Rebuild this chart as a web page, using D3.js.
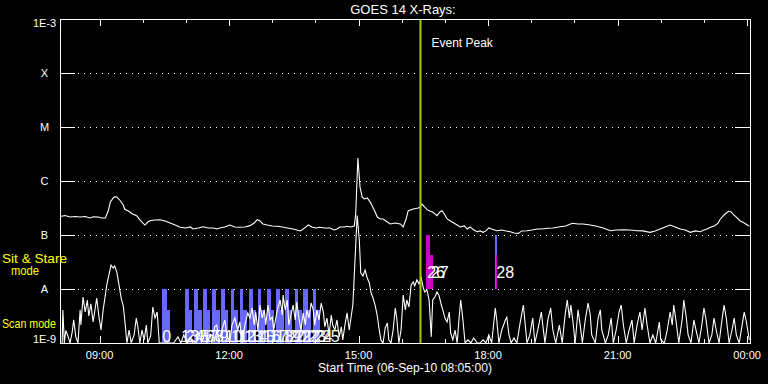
<!DOCTYPE html>
<html><head><meta charset="utf-8">
<script src="https://cdn.jsdelivr.net/npm/d3@7"></script>
<style>
html,body{margin:0;padding:0;background:#000;}
svg{display:block;background:#000;}
text{font-family:"Liberation Sans",Arial,sans-serif;}
</style></head><body>
<svg id="chart" width="768" height="384"></svg>
<script>
// ---------------- DATA ----------------
const startTime = "2010-09-06T08:05:00Z";
const endTime = "2010-09-07T00:04:00Z";
const titleText = "GOES 14 X-Rays:";
const xAxisTitle = "Start Time (06-Sep-10 08:05:00)";
const yLevels = [1e-9, 1e-8, 1e-7, 1e-6, 1e-5, 1e-4, 1e-3];
const yLabels = ["1E-9", "A", "B", "C", "M", "X", "1E-3"];
const eventPeakMin = 501; // minutes after start (16:26)

// GOES long channel: [minutes after start, flux W/m^2]
const longChannel = [
[0,2.2e-7],[7,2.3e-7],[14,2.15e-7],[21,2.2e-7],[28,2.15e-7],[35,2.2e-7],[42,2.07e-7],[46,2.18e-7],
[53,2.15e-7],[58,2.07e-7],[63,2.07e-7],[67,2.78e-7],[70,4.1e-7],[74,4.85e-7],[76,5.1e-7],[79,5.05e-7],
[83,4.45e-7],[88,3.6e-7],[90,3.0e-7],[95,2.78e-7],[101,2.45e-7],[107,2.25e-7],[111,1.9e-7],[115,1.67e-7],
[118,1.53e-7],[122,1.74e-7],[125,1.84e-7],[132,1.9e-7],[139,1.92e-7],[146,1.82e-7],[153,1.67e-7],[160,1.53e-7],
[167,1.39e-7],[174,1.35e-7],[181,1.41e-7],[185,1.29e-7],[192,1.35e-7],[199,1.42e-7],[206,1.35e-7],[213,1.35e-7],
[218,1.29e-7],[222,1.35e-7],[229,1.41e-7],[236,1.53e-7],[243,1.41e-7],[250,1.39e-7],[257,1.41e-7],[264,1.49e-7],
[270,1.67e-7],[274,1.92e-7],[278,1.82e-7],[282,1.6e-7],[288,1.53e-7],[295,1.47e-7],[302,1.45e-7],[309,1.41e-7],
[316,1.35e-7],[324,1.29e-7],[329,1.24e-7],[334,1.19e-7],[338,1.29e-7],[342,1.41e-7],[345,1.53e-7],[350,1.41e-7],
[356,1.35e-7],[361,1.39e-7],[368,1.35e-7],[375,1.35e-7],[381,1.24e-7],[385,1.29e-7],[389,1.41e-7],[395,1.41e-7],
[399,1.45e-7],[404,1.41e-7],[409,1.47e-7],[411,2.45e-7],[414,2.67e-6],[417,7.7e-7],[420,5.05e-7],[423,4.65e-7],
[427,4.84e-7],[431,4.1e-7],[434,3.44e-7],[438,2.67e-7],[441,2.15e-7],[445,1.98e-7],[449,1.98e-7],[455,1.74e-7],
[459,1.6e-7],[466,1.67e-7],[473,1.6e-7],[477,1.41e-7],[481,1.98e-7],[484,2.82e-7],[491,3.03e-7],[498,3.16e-7],
[500,3.3e-7],[503,3.75e-7],[507,3.3e-7],[510,2.95e-7],[514,2.78e-7],[518,2.67e-7],[524,2.28e-7],[528,2.67e-7],
[531,2.82e-7],[535,2.35e-7],[538,1.98e-7],[545,1.74e-7],[552,1.53e-7],[556,1.41e-7],[562,1.47e-7],[566,1.29e-7],
[570,1.41e-7],[575,1.24e-7],[580,1.15e-7],[584,1.19e-7],[588,1.12e-7],[592,1.19e-7],[596,1.35e-7],[600,1.29e-7],
[607,1.2e-7],[614,1.24e-7],[620,1.19e-7],[626,1.15e-7],[631,1.09e-7],[637,1.07e-7],[642,1.19e-7],[649,1.2e-7],
[656,1.24e-7],[663,1.29e-7],[670,1.29e-7],[677,1.33e-7],[685,1.35e-7],[695,1.42e-7],[703,1.47e-7],[712,1.65e-7],
[720,1.6e-7],[727,1.6e-7],[737,1.53e-7],[746,1.45e-7],[755,1.35e-7],[765,1.2e-7],[773,1.24e-7],[783,1.25e-7],
[792,1.24e-7],[802,1.2e-7],[810,1.19e-7],[820,1.12e-7],[827,1.19e-7],[834,1.29e-7],[841,1.41e-7],[848,1.53e-7],
[855,1.41e-7],[862,1.29e-7],[869,1.24e-7],[876,1.12e-7],[883,1.19e-7],[890,1.15e-7],[895,1.24e-7],[899,1.29e-7],
[905,1.41e-7],[910,1.49e-7],[915,1.67e-7],[917,1.92e-7],[923,2.35e-7],[929,2.75e-7],[933,2.67e-7],[935,2.45e-7],
[940,2.15e-7],[945,1.84e-7],[951,1.67e-7],[958,1.45e-7]
];

// GOES short channel: [minutes after start, flux W/m^2]
const shortChannel = [
[3,1.0e-9],[4,4.1e-9],[6,1.0e-9],[8,1.7e-9],[11,1.35e-9],[14,1.0e-9],[17,1.6e-9],[19,2.7e-9],[22,1.3e-9],
[25,1.0e-9],[28,4.1e-9],[29,2.15e-9],[32,7.1e-9],[35,3.75e-9],[38,6.25e-9],[40,3.16e-9],[43,5.3e-9],
[46,2.45e-9],[49,4.45e-9],[51,6.8e-9],[54,3.16e-9],[57,1.74e-9],[60,4.1e-9],[63,7.7e-9],[65,1.19e-8],
[68,1.82e-8],[71,2.78e-8],[74,2.45e-8],[76,2.67e-8],[79,2.06e-8],[82,1.19e-8],[85,6.8e-9],[88,4.84e-9],
[90,2.67e-9],[93,1.0e-9],[96,1.74e-9],[99,1.0e-9],[103,1.41e-9],[106,2.9e-9],[108,2.06e-9],[111,1.0e-9],
[114,1.74e-9],[117,1.14e-9],[120,2.15e-9],[122,1.0e-9],[126,1.35e-9],[129,4.64e-9],[132,2.9e-9],[135,3.75e-9],
[138,1.0e-9],[142,1.0e-9],[147,1.0e-9],[153,1.0e-9],[158,1.0e-9],[164,1.3e-9],[168,1.0e-9],[172,1.41e-9],
[177,1.0e-9],[181,1.24e-9],[185,1.0e-9],[189,1.0e-9],[193,1.53e-9],[197,1.0e-9],[202,1.74e-9],[204,1.0e-9],
[209,1.41e-9],[211,1.0e-9],[215,2.0e-9],[218,2.15e-9],[221,1.0e-9],[225,1.74e-9],[229,2.67e-9],[232,1.41e-9],
[236,1.0e-9],[239,2.15e-9],[243,2.9e-9],[247,1.74e-9],[250,2.45e-9],[253,1.0e-9],[257,2.15e-9],[261,3.6e-9],
[264,2.9e-9],[267,4.45e-9],[270,2.15e-9],[272,3.75e-9],[275,1.74e-9],[278,5.05e-9],[281,2.9e-9],[284,4.1e-9],
[286,2.15e-9],[289,5.05e-9],[292,2.67e-9],[295,3.0e-9],[297,1.74e-9],[302,4.1e-9],[306,6.25e-9],[309,3.3e-9],
[310,7.7e-9],[313,4.1e-9],[316,6.25e-9],[318,2.15e-9],[321,3.3e-9],[324,5.05e-9],[327,2.67e-9],[329,5.74e-9],
[332,2.9e-9],[335,1.74e-9],[338,3.6e-9],[341,2.15e-9],[343,4.1e-9],[346,2.9e-9],[349,5.5e-9],[352,4.1e-9],
[354,2.15e-9],[357,4.1e-9],[360,2.67e-9],[363,5.5e-9],[366,3.75e-9],[368,2.0e-9],[371,2.9e-9],[374,1.41e-9],
[377,3.3e-9],[379,2.15e-9],[382,1.74e-9],[385,2.67e-9],[388,1.3e-9],[391,2.0e-9],[393,1.14e-9],[396,2.15e-9],
[399,3.6e-9],[402,1.74e-9],[404,2.67e-9],[407,5.05e-9],[410,3.4e-8],[413,2.3e-7],[416,8.1e-8],[418,2.0e-8],
[421,1.74e-8],[424,2.25e-8],[427,1.6e-8],[430,1.29e-8],[432,8.8e-9],[435,6.8e-9],[438,5.05e-9],[441,3.16e-9],
[443,2.0e-9],[446,1.14e-9],[449,1.0e-9],[452,1.9e-9],[455,2.35e-9],[457,1.14e-9],[460,1.0e-9],[463,1.74e-9],
[466,4.45e-9],[468,2.9e-9],[471,1.0e-9],[474,1.74e-9],[477,7.7e-9],[480,4.1e-9],[482,6.25e-9],[485,4.64e-9],
[488,1.19e-8],[491,1.35e-8],[493,1.14e-8],[496,1.47e-8],[499,1.24e-8],[502,1.6e-8],[505,1.04e-8],[507,8.8e-9],
[510,9.6e-9],[513,6.25e-9],[516,1.3e-9],[518,6.25e-9],[521,7.1e-9],[524,8.8e-9],[527,7.4e-9],[530,5.05e-9],
[532,4.1e-9],[535,2.9e-9],[538,2.45e-9],[541,3.75e-9],[543,1.53e-9],[546,1.14e-9],[549,1.74e-9],[552,1.0e-9],
[555,3.3e-9],[557,6.25e-9],[560,2.67e-9],[563,1.0e-9],[567,1.14e-9],[571,1.0e-9],[575,1.24e-9],[580,1.0e-9],
[584,1.0e-9],[588,1.14e-9],[592,1.0e-9],[596,1.41e-9],[600,1.0e-9],[605,4.45e-9],[607,2.67e-9],[610,1.0e-9],
[614,1.74e-9],[619,2.67e-9],[621,3.0e-9],[624,1.41e-9],[627,1.0e-9],[631,1.24e-9],[635,1.0e-9],[639,2.15e-9],
[644,5.05e-9],[646,2.67e-9],[649,1.0e-9],[653,1.41e-9],[657,2.9e-9],[660,1.0e-9],[664,1.74e-9],[669,3.75e-9],
[671,2.15e-9],[674,1.0e-9],[678,2.67e-9],[682,4.45e-9],[685,1.74e-9],[689,1.0e-9],[694,2.15e-9],[698,1.0e-9],
[702,3.3e-9],[705,6.25e-9],[708,2.9e-9],[710,5.05e-9],[713,2.45e-9],[716,1.0e-9],[720,4.1e-9],[723,2.15e-9],
[726,1.0e-9],[730,2.67e-9],[734,5.5e-9],[737,3.3e-9],[739,1.41e-9],[744,1.0e-9],[748,2.9e-9],[751,4.1e-9],
[753,1.74e-9],[758,1.0e-9],[762,1.41e-9],[766,2.9e-9],[769,1.0e-9],[773,1.74e-9],[777,3.75e-9],[780,5.05e-9],
[783,2.15e-9],[787,1.0e-9],[791,1.74e-9],[795,2.67e-9],[798,1.0e-9],[802,2.15e-9],[806,3.75e-9],[809,1.74e-9],
[813,4.45e-9],[816,2.15e-9],[820,1.0e-9],[824,1.41e-9],[828,1.0e-9],[833,2.45e-9],[835,1.14e-9],[840,1.0e-9],
[844,1.74e-9],[848,3.75e-9],[851,2.15e-9],[853,5.05e-9],[856,2.67e-9],[860,1.0e-9],[865,2.9e-9],[867,6.25e-9],
[870,3.3e-9],[873,1.41e-9],[877,1.0e-9],[881,2.67e-9],[884,1.74e-9],[888,1.0e-9],[892,2.15e-9],[895,4.45e-9],
[898,2.67e-9],[902,1.0e-9],[906,1.41e-9],[909,2.9e-9],[912,1.74e-9],[916,1.0e-9],[920,2.67e-9],[923,5.05e-9],
[926,2.9e-9],[930,1.0e-9],[934,1.74e-9],[937,2.9e-9],[940,1.41e-9],[944,1.0e-9],[948,2.15e-9],[951,3.75e-9],
[954,2.45e-9],[958,1.14e-9]
];

// Scan-mode rasters (minutes after start): start, end of full-height part, end
const scanStart = [142,174,186,199,211,224,237,250,262,275,288,300,313,326,338,351];
const scanMid   = [149,179,192,204,217,229,242,255,268,280,293,306,318,331,344,356];
const scanEnd   = [153,184,197,209,222,234,247,260,272,285,298,311,323,336,349,361];
const scanLabels = ["0","1","2","3","4","5","6","7","8","9","10","11","12","13","14","15","16","17","18","19","20","21","22","23","24","25"];
const scanLabelTimes = [142,168,175,181,188,195,202,209,215,222,229,238,247,256,264,274,282,292,300,310,318,327,336,345,354,364];
const scanLevels = {bottom:1e-9, full:1e-8, partial:4.1e-9};

// Sit & Stare rasters
const sitStart = [509,605];
const sitMid   = [514,606];
const sitEnd   = [518,607];
const sitLabels = ["26","27","28"];
const sitLabelTimes = [509,514,605];
const sitLevels = {bottom:1e-8, full:1e-7, partial:4.3e-8};

// ---------------- CHART ----------------
const L = 60, R = 750, T = 19, B = 343;
const svg = d3.select("#chart");
const t0 = new Date(startTime), t1 = new Date(endTime);
const tm = m => d3.utcMinute.offset(t0, m);
const x = d3.scaleUtc().domain([t0, t1]).range([L, R]);
const y = d3.scaleLog().domain([1e-9, 1e-3]).range([B, T]);
const px = v => Math.round(v) + 0.5;

svg.append("defs").append("clipPath").attr("id","plotclip").append("rect")
  .attr("x", L).attr("y", T).attr("width", R - L + 1).attr("height", B - T + 1);

const BLUE = "#6868ff", MAG = "#cc00cc", EVT = "#a0d000";

// grid lines (dotted) and ticks
const gGrid = svg.append("g").attr("shape-rendering","crispEdges");
yLevels.slice(1, -1).forEach(v => {
  const yy = px(y(v));
  gGrid.append("line").attr("x1", L + 18).attr("x2", R - 14).attr("y1", yy).attr("y2", yy)
    .attr("stroke", "#fff").attr("stroke-dasharray", "1 5");
  gGrid.append("line").attr("x1", L).attr("x2", L + 15).attr("y1", yy).attr("y2", yy).attr("stroke", "#fff");
  gGrid.append("line").attr("x1", R - 15).attr("x2", R).attr("y1", yy).attr("y2", yy).attr("stroke", "#fff");
});

// scan bars
const gBars = svg.append("g").attr("shape-rendering","crispEdges");
scanStart.forEach((s, i) => {
  gBars.append("rect").attr("x", x(tm(s))).attr("width", x(tm(scanMid[i])) - x(tm(s)))
    .attr("y", y(scanLevels.full)).attr("height", y(scanLevels.bottom) - y(scanLevels.full)).attr("fill", BLUE);
  gBars.append("rect").attr("x", x(tm(scanMid[i]))).attr("width", x(tm(scanEnd[i])) - x(tm(scanMid[i])))
    .attr("y", y(scanLevels.partial)).attr("height", y(scanLevels.bottom) - y(scanLevels.partial)).attr("fill", BLUE);
});
const sitFullColor = [MAG, BLUE];
sitStart.forEach((s, i) => {
  gBars.append("rect").attr("x", x(tm(s))).attr("width", Math.max(2, x(tm(sitMid[i])) - x(tm(s))))
    .attr("y", y(sitLevels.full)).attr("height", y(sitLevels.bottom) - y(sitLevels.full)).attr("fill", sitFullColor[i]);
  gBars.append("rect").attr("x", x(tm(sitMid[i]))).attr("width", Math.max(1.2, x(tm(sitEnd[i])) - x(tm(sitMid[i]))))
    .attr("y", y(sitLevels.partial)).attr("height", y(sitLevels.bottom) - y(sitLevels.partial)).attr("fill", MAG);
});

// curves
const line = d3.line().x(d => x(tm(d[0]))).y(d => y(Math.max(d[1], 1e-9)));
const gCurves = svg.append("g").attr("clip-path", "url(#plotclip)");
gCurves.append("path").datum(shortChannel).attr("d", line).attr("fill","none").attr("stroke","#fff").attr("stroke-width",1.1);
gCurves.append("path").datum(longChannel).attr("d", line).attr("fill","none").attr("stroke","#fff").attr("stroke-width",1.1);

// raster labels
const gLab = svg.append("g").attr("fill","#fff").attr("font-size","16px");
scanLabels.forEach((s, i) => {
  gLab.append("text").attr("x", x(tm(scanLabelTimes[i]))).attr("y", y(scanLevels.bottom) - 1).text(s);
});
sitLabels.forEach((s, i) => {
  gLab.append("text").attr("x", x(tm(sitLabelTimes[i])) + 1).attr("y", y(sitLevels.bottom) - 11).text(s);
});

// event peak line
const xe = x(tm(eventPeakMin));
svg.append("line").attr("x1", xe).attr("x2", xe).attr("y1", T).attr("y2", B)
  .attr("stroke", EVT).attr("stroke-width", 2);
svg.append("text").attr("x", xe + 11).attr("y", 47).attr("fill","#fff").attr("font-size","12px").text("Event Peak");

// axes frame
const gAx = svg.append("g").attr("shape-rendering","crispEdges").attr("stroke","#fff").attr("fill","none");
gAx.append("rect").attr("x", L + 0.5).attr("y", T + 0.5).attr("width", R - L).attr("height", B - T);

// time ticks
d3.utcHour.range(d3.utcHour.ceil(t0), t1).forEach(d => {
  const major = d.getUTCHours() % 3 === 0;
  const len = major ? 7 : 4;
  const xx = px(x(d));
  gAx.append("line").attr("x1", xx).attr("x2", xx).attr("y1", T).attr("y2", T + len);
  gAx.append("line").attr("x1", xx).attr("x2", xx).attr("y1", B).attr("y2", B - len);
});
const fmt = d3.utcFormat("%H:%M");
const gX = svg.append("g").attr("fill","#fff").attr("font-size","11px").attr("text-anchor","middle");
d3.utcHour.every(3).range(d3.utcHour.ceil(t0), d3.utcMinute.offset(t1, 1)).forEach(d => {
  gX.append("text").attr("x", x(d)).attr("y", 359).text(fmt(d));
});
svg.append("text").attr("x", 318).attr("y", 372).attr("fill","#fff").attr("font-size","12px")
  .attr("textLength", 174).attr("lengthAdjust","spacingAndGlyphs").text(xAxisTitle);

// y labels
const gY = svg.append("g").attr("fill","#fff").attr("font-size","11px").attr("text-anchor","middle");
yLevels.forEach((v, i) => {
  let dy = 4;
  if (i === 0) dy = 0;
  if (i === yLevels.length - 1) dy = 8;
  gY.append("text").attr("x", 44.5).attr("y", y(v) + dy).text(yLabels[i]);
});

// title
svg.append("text").attr("x", 403).attr("y", 14).attr("fill","#fff").attr("font-size","13px")
  .attr("text-anchor","middle").text(titleText);

// mode labels
const gM = svg.append("g").attr("fill","#ffff00").attr("font-size","13px");
gM.append("text").attr("x", 2).attr("y", 263).attr("textLength", 65).attr("lengthAdjust","spacingAndGlyphs").text("Sit & Stare");
gM.append("text").attr("x", 11).attr("y", 275).attr("textLength", 28).attr("lengthAdjust","spacingAndGlyphs").text("mode");
gM.append("text").attr("x", 2).attr("y", 328).attr("textLength", 54).attr("lengthAdjust","spacingAndGlyphs").text("Scan mode");
</script>
</body></html>
